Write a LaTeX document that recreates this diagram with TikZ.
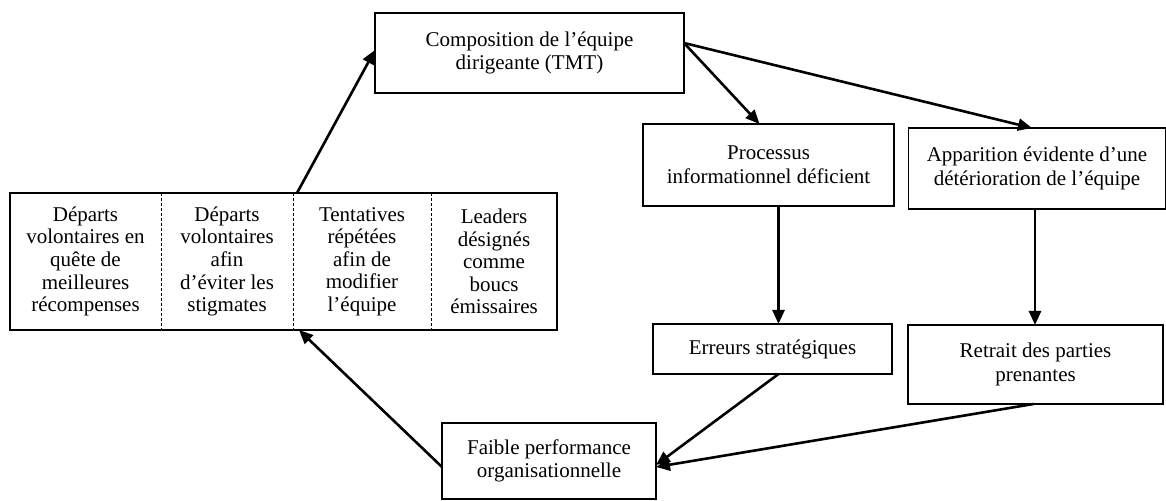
\documentclass[tikz,border=0pt]{standalone}
\usepackage{fontspec}
\setmainfont{Liberation Serif}
\usetikzlibrary{positioning,arrows.meta}

\begin{document}
\begin{tikzpicture}[x=0.5pt,y=-0.5pt,
        box/.style={draw, line width=0.9pt, align=center, inner sep=2pt, outer sep=0pt,
            font=\fontsize{10.5}{11.8}\selectfont},
        cell/.style={align=center, inner sep=0pt, outer sep=0pt, minimum height=68.5pt,
            font=\fontsize{10.5}{11.3}\selectfont},
        divider/.style={line width=0.5pt, dash pattern=on 1.5pt off 1pt},
        arr/.style={-{Triangle[length=7pt,width=6pt]}, line width=1.3pt}]
    \useasboundingbox (0,0) rectangle (1166,501);

    % Top management team
    \node[box, minimum width=154.5pt, minimum height=40pt] (tmt) at (529.5,53)
        {Composition de l’équipe\\dirigeante (TMT)};

    % Right branch
    \node[box, minimum width=125.5pt, minimum height=41pt] (proc) at (768.5,165)
        {Processus\\informationnel déficient};
    \node[box, minimum width=128.5pt, minimum height=40.5pt] (app) at (1037,168.5)
        {Apparition évidente d’une\\détérioration de l’équipe};
    \node[box, minimum width=119.5pt, minimum height=25pt] (err) at (772.5,349)
        {Erreurs stratégiques};
    \node[box, minimum width=127.5pt, minimum height=39.5pt] (ret) at (1035.5,364.5)
        {Retrait des parties\\prenantes};

    % Performance
    \node[box, minimum width=107pt, minimum height=38pt] (fai) at (549,461)
        {Faible performance\\organisationnelle};

    % Consequences (four cells)
    \node[cell, minimum width=75.5pt] (c1) at (85.5,261.5)
        {Départs\\volontaires en\\quête de\\meilleures\\récompenses};
    \node[cell, minimum width=66pt, right=0pt of c1] (c2)
        {Départs\\volontaires\\afin\\d’éviter les\\stigmates};
    \node[cell, minimum width=69pt, right=0pt of c2] (c3)
        {Tentatives\\répétées\\afin de\\modifier\\l’équipe};
    \node[cell, minimum width=63pt, right=0pt of c3] (c4)
        {Leaders\\désignés\\comme\\boucs\\émissaires};
    \draw[line width=1.4pt] (c1.north west) rectangle (c4.south east);
    \foreach \c in {c1,c2,c3}
        \draw[divider] (\c.north east) -- (\c.south east);

    % Arrows
    \draw[arr] ([yshift=5pt]tmt.east) -- ([xshift=-4.5pt]proc.north);
    \draw[arr] ([yshift=5pt]tmt.east) -- ([xshift=-2.5pt]app.north);
    \draw[arr] ([xshift=5pt]proc.south) -- ([xshift=5pt]proc.south |- err.north);
    \draw[arr] ([xshift=-1pt]app.south) -- ([xshift=-1pt]app.south |- ret.north);
    \draw[arr] ([xshift=3pt]err.south) -- ([yshift=-2pt]fai.east);
    \draw[arr] ([xshift=-1pt]ret.south) -- ([yshift=-3pt]fai.east);
    \draw[arr] ([yshift=-3pt]fai.west) -- ([xshift=3pt]c3.south west);
    \draw[arr] ([xshift=2pt]c3.north west) -- ([yshift=1.5pt]tmt.west);
\end{tikzpicture}
\end{document}
